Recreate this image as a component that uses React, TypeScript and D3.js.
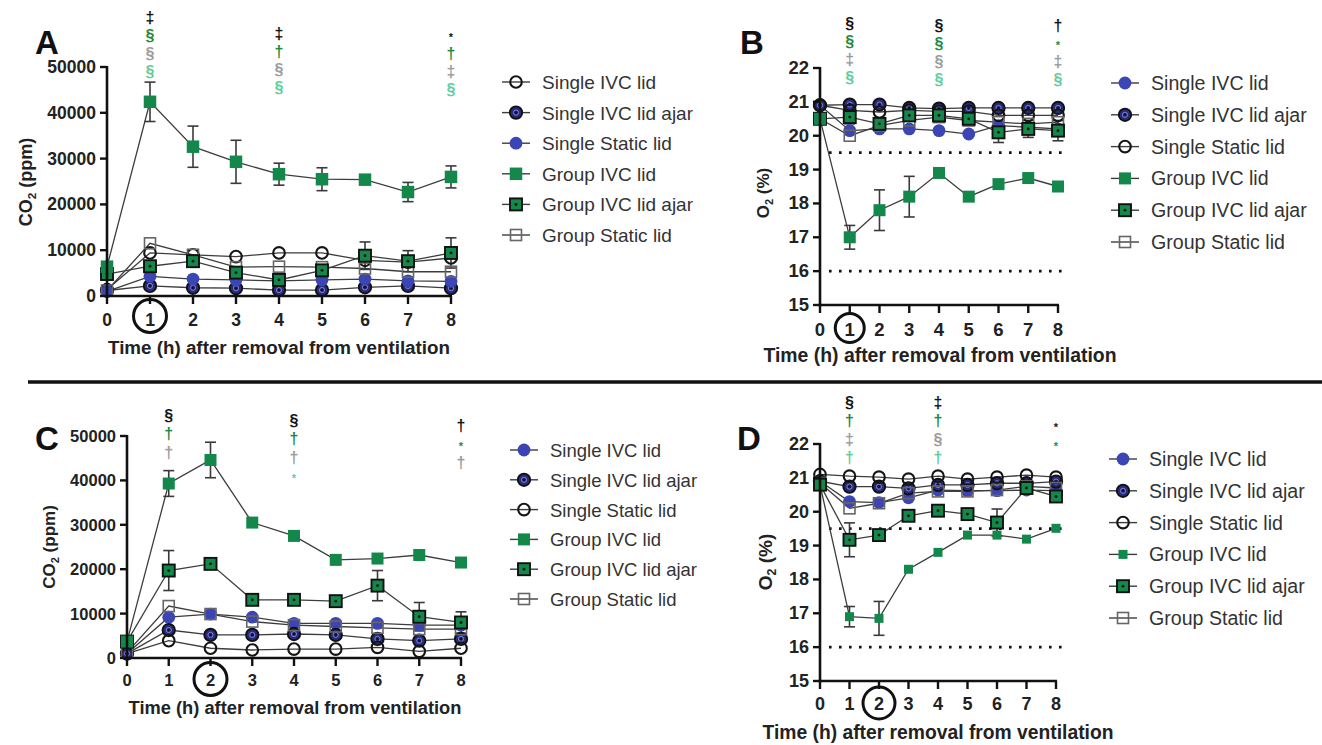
import React from 'react';
import * as d3 from 'd3';

// ---------------- DATA ----------------
const HOURS = [0, 1, 2, 3, 4, 5, 6, 7, 8];
const SERIES_NAMES = ['Single IVC lid', 'Single IVC lid ajar', 'Single Static lid', 'Group IVC lid', 'Group IVC lid ajar', 'Group Static lid'];
const MARKERS_A = ['openCircle', 'navyDot', 'blue', 'green', 'greenAjar', 'openSquare'];
const MARKERS_BCD = ['blue', 'navyDot', 'openCircle', 'green', 'greenAjar', 'openSquare'];
const CO2_TICKS = [0, 10000, 20000, 30000, 40000, 50000];
const O2_TICKS = [15, 16, 17, 18, 19, 20, 21, 22];
const O2_REF_LINES = [19.5, 16];

// Panel A – CO2 (ppm)
const A_SINGLE_IVC = [1400, 9400, 9000, 8600, 9400, 9400, 7800, 7400, 8300];
const A_SINGLE_IVC_AJAR = [1200, 2200, 1800, 1700, 1300, 1300, 1900, 2200, 1700];
const A_SINGLE_STATIC = [1000, 4300, 3700, 3500, 3300, 3500, 3700, 3300, 3200];
const A_GROUP_IVC = [6400, 42400, 32600, 29300, 26600, 25500, 25400, 22700, 26000];
const A_GROUP_IVC_ERR = [600, 4300, 4500, 4700, 2400, 2500, 600, 2100, 2400];
const A_GROUP_IVC_AJAR = [4800, 6500, 7600, 5100, 3500, 5600, 8800, 7600, 9400];
const A_GROUP_IVC_AJAR_ERR = [0, 0, 0, 0, 0, 0, 3000, 2300, 3300];
const A_GROUP_STATIC = [1200, 11500, 9000, 6300, 6400, 6300, 6000, 5300, 5300];

// Panel B – O2 (%)
const B_SINGLE_IVC = [20.9, 20.15, 20.2, 20.2, 20.15, 20.05, 20.3, 20.25, 20.2];
const B_SINGLE_IVC_AJAR = [20.9, 20.92, 20.92, 20.82, 20.8, 20.82, 20.82, 20.82, 20.82];
const B_SINGLE_STATIC = [20.9, 20.75, 20.7, 20.75, 20.72, 20.72, 20.6, 20.6, 20.6];
const B_GROUP_IVC = [20.5, 17.0, 17.8, 18.2, 18.9, 18.2, 18.57, 18.75, 18.5];
const B_GROUP_IVC_ERR = [0.1, 0.35, 0.6, 0.6, 0.1, 0.1, 0.1, 0.1, 0.1];
const B_GROUP_IVC_AJAR = [20.5, 20.55, 20.35, 20.6, 20.6, 20.5, 20.1, 20.2, 20.15];
const B_GROUP_IVC_AJAR_ERR = [0, 0.2, 0, 0, 0, 0, 0.3, 0.25, 0.3];
const B_GROUP_STATIC = [20.5, 20.0, 20.3, 20.45, 20.55, 20.45, 20.4, 20.35, 20.4];

// Panel C – CO2 (ppm)
const C_SINGLE_IVC = [1000, 9200, 9900, 9200, 7800, 7800, 7800, 7400, 7400];
const C_SINGLE_IVC_AJAR = [1000, 6300, 5200, 5200, 5400, 5200, 4300, 3900, 4300];
const C_SINGLE_STATIC = [1000, 3900, 2200, 1800, 2000, 2000, 2400, 1500, 2200];
const C_GROUP_IVC = [3700, 39300, 44600, 30500, 27500, 22100, 22400, 23200, 21500];
const C_GROUP_IVC_ERR = [0, 2900, 4000, 0, 0, 0, 0, 0, 0];
const C_GROUP_IVC_AJAR = [3700, 19700, 21200, 13100, 13100, 12800, 16300, 9300, 8000];
const C_GROUP_IVC_AJAR_ERR = [0, 4500, 1000, 0, 800, 0, 3400, 3200, 2400];
const C_GROUP_STATIC = [1200, 11700, 9900, 8200, 7400, 7100, 6800, 6500, 6500];

// Panel D – O2 (%)
const D_SINGLE_IVC = [20.9, 20.3, 20.27, 20.41, 20.64, 20.62, 20.62, 20.64, 20.62];
const D_SINGLE_IVC_AJAR = [20.9, 20.74, 20.74, 20.69, 20.79, 20.79, 20.84, 20.84, 20.89];
const D_SINGLE_STATIC = [21.1, 21.05, 21.02, 20.96, 21.05, 20.96, 21.02, 21.08, 21.02];
const D_GROUP_IVC = [20.8, 16.9, 16.85, 18.3, 18.8, 19.31, 19.31, 19.19, 19.51];
const D_GROUP_IVC_ERR = [0, 0.3, 0.5, 0, 0, 0, 0, 0, 0];
const D_GROUP_IVC_AJAR = [20.8, 19.17, 19.31, 19.88, 20.03, 19.93, 19.68, 20.7, 20.45];
const D_GROUP_IVC_AJAR_ERR = [0, 0.5, 0, 0, 0, 0, 0.4, 0, 0];
const D_GROUP_STATIC = [20.85, 20.1, 20.25, 20.55, 20.6, 20.6, 20.64, 20.75, 20.7];

// Significance symbols: [hour, symbols, colour keys]
const A_SIG = [
  [1, ['‡', '§', '§', '§'], ['k', 'g', 's', 'm']],
  [4, ['‡', '†', '§', '§'], ['k', 'g', 's', 'm']],
  [8, ['*', '†', '‡', '§'], ['k', 'g', 's', 'm']],
];
const B_SIG = [
  [1, ['§', '§', '‡', '§'], ['k', 'g', 's', 'm']],
  [4, ['§', '§', '§', '§'], ['k', 'g', 's', 'm']],
  [8, ['†', '*', '‡', '§'], ['k', 'g', 's', 'm']],
];
const C_SIG = [
  [1, ['§', '†', '†'], ['k', 'g', 's']],
  [4, ['§', '†', '†', '*'], ['k', 'g', 's', 'm']],
  [8, ['†', '*', '†'], ['k', 'g', 's']],
];
const D_SIG = [
  [1, ['§', '†', '‡', '†'], ['k', 'g', 's', 'm']],
  [4, ['‡', '†', '§', '†'], ['k', 'g', 's', 'm']],
  [8, ['*', '*'], ['k', 'g']],
];

// ---------------- STYLE ----------------
const FONT = "'Liberation Sans', Arial, Helvetica, sans-serif";
const SIG_COLORS: Record<string, string> = { k: '#141414', g: '#1f8a3f', s: '#9c9c9c', m: '#62cc9c' };
const GREEN = '#14874b';
const NAVY = '#272b7c';
const BLUE = '#3b45b3';

function Marker({ type, x, y, sq = 12 }: { type: string; x: number; y: number; sq?: number }) {
  switch (type) {
    case 'openCircle':
      return <circle cx={x} cy={y} r={5.8} fill="none" stroke="#151515" strokeWidth={2.1} />;
    case 'navyDot':
      return (
        <g>
          <circle cx={x} cy={y} r={6.2} fill={NAVY} stroke="#111" strokeWidth={1.9} />
          <circle cx={x} cy={y} r={2.6} fill="none" stroke="#7a7fdc" strokeWidth={1} />
          <circle cx={x} cy={y} r={1.3} fill="#111" />
        </g>
      );
    case 'blue':
      return <circle cx={x} cy={y} r={6.4} fill={BLUE} />;
    case 'green':
      return <rect x={x - sq / 2} y={y - sq / 2} width={sq} height={sq} fill={GREEN} />;
    case 'greenAjar':
      return (
        <g>
          <rect x={x - 6} y={y - 6} width={12} height={12} fill={GREEN} stroke="#111" strokeWidth={1.9} />
          <circle cx={x} cy={y} r={1.4} fill="#111" />
        </g>
      );
    case 'openSquare':
    default:
      return <rect x={x - 5.5} y={y - 5.5} width={11} height={11} fill="none" stroke="#666" strokeWidth={1.6} />;
  }
}

type Panel = {
  letter: string; letterX: number; letterY: number;
  x0: number; x8: number; yBot: number; yTop: number; domain: [number, number]; ticks: number[];
  tickFont: number; tickLabelY: number; circled: number; circleR: number; circleCy: number;
  xTitleX: number; xTitleY: number; xTitleFont: number;
  yTitleMain: string; yTitleRest: string; yTitleX: number; yTitleY: number; yTitleFont: number;
  legendX: number; legendY: number; legendStep: number; legendFont: number;
  markers: string[]; values: number[][]; errors: (number[] | null)[];
  sig: any[]; sigStart: number[]; sigStep: number; refLines: number[]; refEnd: number; greenSq: number;
};

const panels: Panel[] = [
  {
    letter: 'A', letterX: 47, letterY: 54,
    x0: 107, x8: 451, yBot: 296, yTop: 67, domain: [0, 50000], ticks: CO2_TICKS,
    tickFont: 17.5, tickLabelY: 325.5, circled: 1, circleR: 16.5, circleCy: 316,
    xTitleX: 279, xTitleY: 353.5, xTitleFont: 18.8,
    yTitleMain: 'CO', yTitleRest: ' (ppm)', yTitleX: 32, yTitleY: 182, yTitleFont: 18,
    legendX: 516, legendY: 82, legendStep: 30.6, legendFont: 19,
    markers: MARKERS_A,
    values: [A_SINGLE_IVC, A_SINGLE_IVC_AJAR, A_SINGLE_STATIC, A_GROUP_IVC, A_GROUP_IVC_AJAR, A_GROUP_STATIC],
    errors: [null, null, null, A_GROUP_IVC_ERR, A_GROUP_IVC_AJAR_ERR, null],
    sig: A_SIG, sigStart: [17, 33, 35], sigStep: 18.3, refLines: [], refEnd: 0, greenSq: 12.5,
  },
  {
    letter: 'B', letterX: 752, letterY: 54,
    x0: 820, x8: 1058, yBot: 305, yTop: 68, domain: [15, 22], ticks: O2_TICKS,
    tickFont: 18.5, tickLabelY: 335.5, circled: 1, circleR: 14.5, circleCy: 328,
    xTitleX: 940, xTitleY: 361.5, xTitleFont: 19.4,
    yTitleMain: 'O', yTitleRest: ' (%)', yTitleX: 769, yTitleY: 193, yTitleFont: 17,
    legendX: 1125, legendY: 83, legendStep: 31.8, legendFont: 19.6,
    markers: MARKERS_BCD,
    values: [B_SINGLE_IVC, B_SINGLE_IVC_AJAR, B_SINGLE_STATIC, B_GROUP_IVC, B_GROUP_IVC_AJAR, B_GROUP_STATIC],
    errors: [null, null, null, B_GROUP_IVC_ERR, B_GROUP_IVC_AJAR_ERR, null],
    sig: B_SIG, sigStart: [23, 25, 25], sigStep: 18, refLines: O2_REF_LINES, refEnd: 1068, greenSq: 12,
  },
  {
    letter: 'C', letterX: 47, letterY: 450,
    x0: 127, x8: 461, yBot: 658, yTop: 436, domain: [0, 50000], ticks: CO2_TICKS,
    tickFont: 16.5, tickLabelY: 686, circled: 2, circleR: 16.5, circleCy: 679,
    xTitleX: 295, xTitleY: 713.5, xTitleFont: 18.3,
    yTitleMain: 'CO', yTitleRest: ' (ppm)', yTitleX: 55, yTitleY: 547, yTitleFont: 17,
    legendX: 524, legendY: 450, legendStep: 29.8, legendFont: 18.5,
    markers: MARKERS_BCD,
    values: [C_SINGLE_IVC, C_SINGLE_IVC_AJAR, C_SINGLE_STATIC, C_GROUP_IVC, C_GROUP_IVC_AJAR, C_GROUP_STATIC],
    errors: [null, null, null, C_GROUP_IVC_ERR, C_GROUP_IVC_AJAR_ERR, null],
    sig: C_SIG, sigStart: [415, 420, 425], sigStep: 18.5, refLines: [], refEnd: 0, greenSq: 12,
  },
  {
    letter: 'D', letterX: 749, letterY: 450,
    x0: 820, x8: 1056, yBot: 681, yTop: 444, domain: [15, 22], ticks: O2_TICKS,
    tickFont: 18, tickLabelY: 709.5, circled: 2, circleR: 16, circleCy: 703,
    xTitleX: 938, xTitleY: 738.5, xTitleFont: 19.3,
    yTitleMain: 'O', yTitleRest: ' (%)', yTitleX: 772, yTitleY: 562, yTitleFont: 19,
    legendX: 1123, legendY: 459, legendStep: 31.8, legendFont: 19.6,
    markers: MARKERS_BCD,
    values: [D_SINGLE_IVC, D_SINGLE_IVC_AJAR, D_SINGLE_STATIC, D_GROUP_IVC, D_GROUP_IVC_AJAR, D_GROUP_STATIC],
    errors: [null, null, null, D_GROUP_IVC_ERR, D_GROUP_IVC_AJAR_ERR, null],
    sig: D_SIG, sigStart: [402, 402, 425], sigStep: 18.5, refLines: O2_REF_LINES, refEnd: 1067, greenSq: 9,
  },
];

function PanelView({ p }: { p: Panel }) {
  const x = d3.scaleLinear().domain([0, 8]).range([p.x0, p.x8]);
  const y = d3.scaleLinear().domain(p.domain).range([p.yBot, p.yTop]);
  const line = d3.line<number>().x((_, i) => x(HOURS[i])).y((v) => y(v));
  const tickLen = 7;
  const order = [0, 1, 2, 5, 4, 3];
  return (
    <g fontFamily={FONT}>
      <text x={p.letterX} y={p.letterY} fontSize={33} fontWeight="bold" textAnchor="middle" fill="#111">{p.letter}</text>

      {p.refLines.map((r) => (
        <line key={r} x1={p.x0 + 9} x2={p.refEnd} y1={y(r)} y2={y(r)} stroke="#111" strokeWidth={2.6} strokeDasharray="2.6 7.4" />
      ))}

      {p.values.map((vals, i) => (
        <path key={'l' + i} d={line(vals) || ''} fill="none" stroke="#3d3d3d" strokeWidth={1.3} />
      ))}

      {p.errors.map((errs, i) =>
        errs
          ? errs.map((e, j) =>
              e > 0 ? (
                <g key={'e' + i + '-' + j} stroke="#3a3a3a" strokeWidth={1.6}>
                  <line x1={x(HOURS[j])} x2={x(HOURS[j])} y1={y(p.values[i][j] - e)} y2={y(p.values[i][j] + e)} />
                  <line x1={x(HOURS[j]) - 5.5} x2={x(HOURS[j]) + 5.5} y1={y(p.values[i][j] + e)} y2={y(p.values[i][j] + e)} />
                  <line x1={x(HOURS[j]) - 5.5} x2={x(HOURS[j]) + 5.5} y1={y(p.values[i][j] - e)} y2={y(p.values[i][j] - e)} />
                </g>
              ) : null
            )
          : null
      )}

      {order.map((i) =>
        p.values[i].map((v, j) => (
          <Marker key={'m' + i + '-' + j} type={p.markers[i]} x={x(HOURS[j])} y={y(v)} sq={p.greenSq} />
        ))
      )}

      <line x1={p.x0} x2={p.x0} y1={p.yTop - 1} y2={p.yBot + 1.3} stroke="#111" strokeWidth={2.6} />
      <line x1={p.x0 - 1.3} x2={p.x8 + 1} y1={p.yBot} y2={p.yBot} stroke="#111" strokeWidth={2.6} />
      {p.ticks.map((t) => (
        <g key={'yt' + t}>
          <line x1={p.x0 - tickLen} x2={p.x0} y1={y(t)} y2={y(t)} stroke="#111" strokeWidth={2.4} />
          <text x={p.x0 - 11} y={y(t) + 6} fontSize={p.tickFont} fontWeight="bold" textAnchor="end" fill="#222">{t}</text>
        </g>
      ))}
      {HOURS.map((h) => (
        <g key={'xt' + h}>
          <line x1={x(h)} x2={x(h)} y1={p.yBot} y2={p.yBot + tickLen + 1} stroke="#111" strokeWidth={2.4} />
          <text x={x(h)} y={p.tickLabelY} fontSize={p.tickFont} fontWeight="bold" textAnchor="middle" fill="#222">{h}</text>
        </g>
      ))}
      <circle cx={x(p.circled)} cy={p.circleCy} r={p.circleR} fill="none" stroke="#111" strokeWidth={3} />

      <text x={p.xTitleX} y={p.xTitleY} fontSize={p.xTitleFont} fontWeight="bold" textAnchor="middle" fill="#222">
        Time (h) after removal from ventilation
      </text>
      <text transform={`translate(${p.yTitleX},${p.yTitleY}) rotate(-90)`} fontSize={p.yTitleFont} fontWeight="bold" textAnchor="middle" fill="#222">
        {p.yTitleMain}
        <tspan fontSize={p.yTitleFont * 0.65} dy={4}>2</tspan>
        <tspan dy={-4}>{p.yTitleRest}</tspan>
      </text>

      {p.sig.map(([h, syms, cols]: any, k: number) =>
        syms.map((s: string, r: number) => (
          <text
            key={'s' + k + '-' + r}
            x={x(h)}
            y={p.sigStart[k] + r * p.sigStep + (s === '*' ? 6 : 5.5)}
            fontSize={s === '*' ? 11 : 16}
            fontWeight="bold"
            textAnchor="middle"
            fill={SIG_COLORS[cols[r]]}
          >
            {s}
          </text>
        ))
      )}

      {SERIES_NAMES.map((name, i) => {
        const ly = p.legendY + i * p.legendStep;
        return (
          <g key={'lg' + i}>
            <line x1={p.legendX - 14} x2={p.legendX + 14} y1={ly} y2={ly} stroke="#3d3d3d" strokeWidth={1.4} />
            <Marker type={p.markers[i]} x={p.legendX} y={ly} sq={p.greenSq} />
            <text x={p.legendX + 26} y={ly + 7} fontSize={p.legendFont} fill="#333">{name}</text>
          </g>
        );
      })}
    </g>
  );
}

export default function App() {
  return (
    <svg width={1322} height={745} viewBox="0 0 1322 745" style={{ position: 'absolute', left: 0, top: 0, background: '#fff' }}>
      <rect x={0} y={0} width={1322} height={745} fill="#fff" />
      <line x1={28} x2={1322} y1={382} y2={382} stroke="#111" strokeWidth={3.5} />
      {panels.map((p) => (
        <PanelView key={p.letter} p={p} />
      ))}
    </svg>
  );
}
